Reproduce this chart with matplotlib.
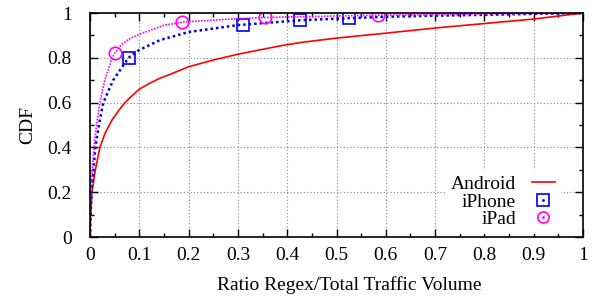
import matplotlib
matplotlib.use("Agg")
import matplotlib.pyplot as plt
from matplotlib.lines import Line2D
from matplotlib.ticker import MultipleLocator

plt.rcParams['font.family'] = ['Liberation Serif', 'DejaVu Serif']

android_x = [0, 0.001, 0.004, 0.01, 0.02, 0.03, 0.044, 0.06, 0.071, 0.085, 0.1, 0.12, 0.142, 0.159,
             0.2, 0.25, 0.3, 0.385, 0.426, 0.5, 0.6, 0.7, 0.8, 0.9, 1.0]
android_y = [0, 0.08, 0.2, 0.29, 0.40, 0.46, 0.52, 0.57, 0.60, 0.63, 0.66, 0.685, 0.709, 0.723,
             0.76, 0.79, 0.816, 0.853, 0.868, 0.888, 0.91, 0.933, 0.953, 0.973, 1.0]

iphone_x = [0, 0.001, 0.003, 0.011, 0.018, 0.027, 0.047, 0.078, 0.1, 0.142, 0.2, 0.3, 0.43, 0.525,
            0.6, 0.7, 0.8, 0.9, 1.0]
iphone_y = [0, 0.08, 0.2, 0.4, 0.5, 0.6, 0.7, 0.8, 0.835, 0.879, 0.915, 0.946, 0.968, 0.977,
            0.983, 0.988, 0.992, 0.996, 1.0]
iphone_mx = [0.08, 0.31, 0.426, 0.525]
iphone_my = [0.80, 0.948, 0.968, 0.977]

ipad_x = [0, 0.0014, 0.008, 0.013, 0.02, 0.03, 0.045, 0.05, 0.064, 0.08, 0.1, 0.15, 0.19, 0.3,
          0.355, 0.5, 0.584, 0.7, 0.8, 1.0]
ipad_y = [0, 0.2, 0.4, 0.5, 0.6, 0.7, 0.8, 0.82, 0.86, 0.885, 0.905, 0.945, 0.96, 0.975,
          0.98, 0.987, 0.99, 0.993, 0.996, 1.0]
ipad_mx = [0.05, 0.187, 0.355, 0.584]
ipad_my = [0.823, 0.96, 0.98, 0.99]

labels = ['Android', 'iPhone', 'iPad']
xticks = [0, 0.1, 0.2, 0.3, 0.4, 0.5, 0.6, 0.7, 0.8, 0.9, 1]
xticklabels = ['0', '0.1', '0.2', '0.3', '0.4', '0.5', '0.6', '0.7', '0.8', '0.9', '1']
yticks = [0, 0.2, 0.4, 0.6, 0.8, 1]
yticklabels = ['0', '0.2', '0.4', '0.6', '0.8', '1']

RED = '#ff0000'
BLUE = '#0000ee'
MAG = '#ff00ff'
FS = 14

fig = plt.figure(figsize=(5.92, 2.99), dpi=100)
ax = fig.add_axes([90/592, 62/299, 493/592, 224/299])

ax.plot(android_x, android_y, color=RED, lw=1.2, solid_capstyle='butt', solid_joinstyle='round')
ax.plot(iphone_x, iphone_y, color=BLUE, lw=1.8, linestyle=(0, (1, 1.2)))
ax.plot(iphone_mx, iphone_my, linestyle='none', marker='s', ms=8.5, mfc='none', mec=BLUE, mew=1.2)
ax.plot(ipad_x, ipad_y, color=MAG, lw=1.2, linestyle=(0, (1, 0.8)))
ax.plot(ipad_mx, ipad_my, linestyle='none', marker='o', ms=9, mfc='none', mec=MAG, mew=1.2)

ax.set_xlim(0, 1)
ax.set_ylim(0, 1)
ax.set_xticks(xticks)
ax.set_xticklabels(xticklabels)
ax.set_yticks(yticks)
ax.set_yticklabels(yticklabels)
ax.xaxis.set_minor_locator(MultipleLocator(0.05))
ax.yaxis.set_minor_locator(MultipleLocator(0.1))
ax.tick_params(which='both', direction='in', top=True, right=True, labelsize=FS, width=1, color='black')
ax.tick_params(which='major', length=6)
ax.tick_params(which='minor', length=3)
ax.tick_params(axis='x', which='major', pad=7)
ax.tick_params(axis='y', which='major', pad=13)
ax.grid(True, which='major', color='#888888', linestyle=(0, (1, 2)), lw=0.8)
for s in ax.spines.values():
    s.set_linewidth(1.2)

ax.set_xlabel('Ratio Regex/Total Traffic Volume', fontsize=FS, labelpad=8)
ax.xaxis.set_label_coords(0.525, -0.175)
ax.set_ylabel('CDF', fontsize=FS, labelpad=8)

dot_b = Line2D([], [], linestyle='none', marker='.', ms=2, color=BLUE)
dot_m = Line2D([], [], linestyle='none', marker='.', ms=2, color=MAG)
handles = [
    Line2D([], [], color=RED, lw=1.2),
    (Line2D([], [], linestyle='none', marker='s', ms=8, mfc='none', mec=BLUE, mew=1.2), dot_b),
    (Line2D([], [], linestyle='none', marker='o', ms=8, mfc='none', mec=MAG, mew=1.2), dot_m),
]
leg = ax.legend(handles, labels, loc='lower right', markerfirst=False, frameon=True,
                fontsize=FS, handlelength=1.2, handletextpad=0.8, labelspacing=0.0,
                borderaxespad=0.0, borderpad=0.3, bbox_to_anchor=(0.955, 0.013))
leg.get_frame().set_facecolor('white')
leg.get_frame().set_edgecolor('none')
leg.get_frame().set_alpha(1)
for t in leg.get_texts():
    t.set_ha('right')

fig.savefig('out.png', dpi=100)
